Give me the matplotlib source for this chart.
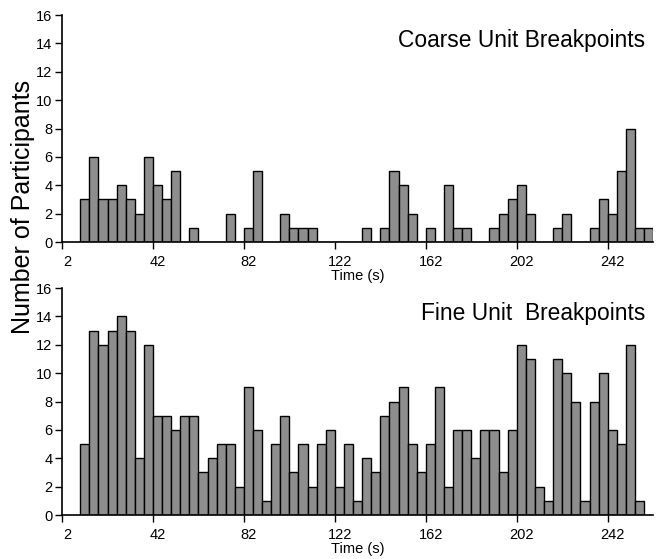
import matplotlib.pyplot as plt
import matplotlib.transforms as mtransforms
import numpy as np

plt.rcParams['font.family'] = ['Liberation Sans', 'DejaVu Sans']

# 4 s bins starting at t = 10 s
bin_start = 10
bin_width = 4

coarse_counts = [3, 6, 3, 3, 4, 3, 2, 6, 4, 3, 5, 0, 1, 0, 0, 0, 2, 0, 1, 5,
                 0, 0, 2, 1, 1, 1, 0, 0, 0, 0, 0, 1, 0, 1, 5, 4, 2, 0, 1, 0,
                 4, 1, 1, 0, 0, 1, 2, 3, 4, 2, 0, 0, 1, 2, 0, 0, 1, 3, 2, 5,
                 8, 1, 1]

fine_counts = [5, 13, 12, 13, 14, 13, 4, 12, 7, 7, 6, 7, 7, 3, 4, 5, 5, 2, 9, 6,
               1, 5, 7, 3, 5, 2, 5, 6, 2, 5, 1, 4, 3, 7, 8, 9, 5, 3, 5, 9,
               2, 6, 6, 4, 6, 6, 3, 6, 12, 11, 2, 1, 11, 10, 8, 1, 8, 10, 6, 5,
               12, 1]

xticks = [2, 42, 82, 122, 162, 202, 242]
yticks = [0, 2, 4, 6, 8, 10, 12, 14, 16]
titles = ['Coarse Unit Breakpoints', 'Fine Unit  Breakpoints']

fig = plt.figure(figsize=(6.62, 5.59), dpi=100)
ax_top = fig.add_axes([0.0937, 0.567, 0.893, 0.406])
ax_bot = fig.add_axes([0.0937, 0.0787, 0.893, 0.406])

# tick labels in the original sit a little right of their ticks
shift = mtransforms.ScaledTranslation(0.05, 0, fig.dpi_scale_trans)

for ax, counts, title in [(ax_top, coarse_counts, titles[0]),
                          (ax_bot, fine_counts, titles[1])]:
    left = bin_start + bin_width * np.arange(len(counts))
    ax.bar(left, counts, width=bin_width, align='edge',
           color='#8e8e8e', edgecolor='black', linewidth=1.0)
    ax.set_xlim(2, 262)
    ax.set_ylim(0, 16)
    ax.set_xticks(xticks)
    ax.set_yticks(yticks)
    ax.spines['top'].set_visible(False)
    ax.spines['right'].set_visible(False)
    ax.spines['left'].set_linewidth(1.2)
    ax.spines['bottom'].set_linewidth(1.2)
    ax.tick_params(axis='both', labelsize=10.5, direction='out', length=5,
                   width=1.0, pad=2)
    ax.tick_params(axis='x', pad=4)
    for lab in ax.get_xticklabels():
        lab.set_transform(lab.get_transform() + shift)
    ax.text(0.986, 0.89, title, transform=ax.transAxes, ha='right',
            va='center', fontsize=16.4)

fig.text(0.54, 0.506, 'Time (s)', ha='center', va='center', fontsize=10.5)
fig.text(0.54, 0.018, 'Time (s)', ha='center', va='center', fontsize=10.5)
fig.text(0.035, 0.630, 'Number of Participants', rotation=90,
         ha='center', va='center', fontsize=18)

fig.savefig('out.png', dpi=100)
